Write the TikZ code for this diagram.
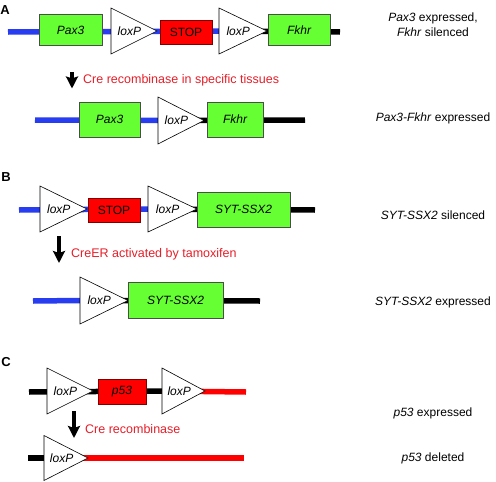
\documentclass[tikz,border=0pt]{standalone}
\usepackage{fontspec}
\setmainfont{Liberation Sans}
\usetikzlibrary{arrows.meta,backgrounds}
\definecolor{gene}{RGB}{102,255,51}
\definecolor{stopred}{RGB}{255,0,0}
\definecolor{dnablue}{RGB}{40,60,240}
\definecolor{labred}{RGB}{230,30,40}
\tikzset{
 dna/.style={line width=5.5pt},
 bluedna/.style={dna, draw=dnablue},
 blackdna/.style={dna, draw=black},
 reddna/.style={dna, draw=stopred},
 genebox/.style={draw=black!70, line width=0.6pt, fill=gene, inner sep=0pt,
   font=\itshape\fontsize{12}{14}\selectfont},
 stopbox/.style={draw=black!50!red, line width=0.6pt, fill=stopred, inner sep=0pt,
   font=\fontsize{12}{14}\selectfont},
 loxtri/.style={draw=black, fill=white, line width=0.6pt},
 loxlabel/.style={font=\itshape\fontsize{12}{14}\selectfont, inner sep=0pt},
 steparrow/.style={line width=3.2pt, -{Stealth[width=12pt,length=12pt,inset=2pt]}},
 steplabel/.style={text=labred, anchor=west, inner sep=0pt,
   font=\fontsize{12.5}{15}\selectfont},
 outcome/.style={align=center, inner sep=0pt, font=\fontsize{12}{15}\selectfont},
 panel/.style={inner sep=0pt, font=\bfseries\fontsize{13}{15}\selectfont}
}
% name, x left, y centre, width, half height
\newcommand\loxsite[5]{%
 \draw[loxtri] (#2,#3-#5) -- (#2+#4,#3) -- (#2,#3+#5) -- cycle;
 \coordinate (#1-base) at (#2,#3);
 \coordinate (#1-tip) at (#2+#4,#3);
 \node[loxlabel] (#1) at (#2+0.4*#4,#3) {loxP};}
\begin{document}
\begin{tikzpicture}[x=1pt,y=-1pt]
\useasboundingbox (0,0) rectangle (496,482);

% ---------------- Panel A ----------------
\node[panel] (pA) at (5,10) {A};
\coordinate (a1s) at (8,32);
\coordinate (a1e) at (340,32);
\node[genebox, minimum width=63pt, minimum height=31pt] (a1pax) at (70.5,30) {Pax3};
\loxsite{a1l1}{111}{31}{46}{23}
\node[stopbox, minimum width=52pt, minimum height=24pt] (a1stop) at (186,32) {STOP};
\loxsite{a1l2}{219}{31}{48}{23}
\node[genebox, minimum width=62pt, minimum height=31pt] (a1fk) at (299,30) {Fkhr};
\begin{scope}[on background layer]
 \draw[bluedna] (a1s) -- (a1l2-base);
 \draw[blackdna] (a1l2-base) -- (a1e);
\end{scope}

\coordinate (aa1) at (72,72);
\coordinate (aa2) at (72,88.5);
\draw[steparrow] (aa1) -- (aa2);
\node[steplabel] (atext) at (83,80) {Cre recombinase in specific tissues};

\coordinate (a2s) at (35,120);
\coordinate (a2e) at (305,120);
\node[genebox, minimum width=61pt, minimum height=35pt] (a2pax) at (109.5,119.5) {Pax3};
\loxsite{a2l}{158}{120.5}{46}{23.5}
\node[genebox, minimum width=56pt, minimum height=35pt] (a2fk) at (235,119.5) {Fkhr};
\begin{scope}[on background layer]
 \draw[bluedna] (a2s) -- (a2l-base);
 \draw[blackdna] (a2l-base) -- (a2e);
\end{scope}

\node[outcome] (oA1) at (433,24.5) {\textit{Pax3} expressed,\\\textit{Fkhr} silenced};
\node[outcome] (oA2) at (433,118) {\textit{Pax3-Fkhr} expressed};

% ---------------- Panel B ----------------
\node[panel] (pB) at (6,177) {B};
\coordinate (b1s) at (19,210);
\coordinate (b1e) at (315,210);
\loxsite{b1l1}{40}{209}{47}{23}
\node[stopbox, minimum width=52pt, minimum height=24pt] (b1stop) at (114,210) {STOP};
\loxsite{b1l2}{148}{209}{49}{23}
\node[genebox, minimum width=93pt, minimum height=35pt] (b1syt) at (243.5,209.5) {SYT-SSX2};
\begin{scope}[on background layer]
 \draw[bluedna] (b1s) -- (b1l2-base);
 \draw[blackdna] (b1l2-base) -- (b1e);
\end{scope}

\coordinate (ba1) at (59,236);
\coordinate (ba2) at (59,263);
\draw[steparrow] (ba1) -- (ba2);
\node[steplabel] (btext) at (71,254) {CreER activated by tamoxifen};

\coordinate (b2s) at (33,301);
\coordinate (b2e) at (260,301);
\loxsite{b2l}{80}{300.5}{48}{23.5}
\node[genebox, minimum width=95pt, minimum height=36pt] (b2syt) at (175.5,300) {SYT-SSX2};
\begin{scope}[on background layer]
 \draw[bluedna] (b2s) -- (b2l-base);
 \draw[blackdna] (b2l-base) -- (b2e);
\end{scope}

\node[outcome] (oB1) at (433,215) {\textit{SYT-SSX2} silenced};
\node[outcome] (oB2) at (433,302) {\textit{SYT-SSX2} expressed};

% ---------------- Panel C ----------------
\node[panel] (pC) at (6,362) {C};
\coordinate (c1s) at (29,392);
\coordinate (c1e) at (246,392);
\loxsite{c1l1}{47}{391}{46}{23}
\node[stopbox, minimum width=48pt, minimum height=25pt, font=\itshape\fontsize{12}{14}\selectfont] (c1p53) at (122,391.5) {p53};
\loxsite{c1l2}{162}{391}{43}{23}
\begin{scope}[on background layer]
 \draw[blackdna] (c1s) -- (c1l2-base);
 \draw[reddna] (c1l2-base) -- (c1e);
\end{scope}

\coordinate (ca1) at (74,411);
\coordinate (ca2) at (74,438);
\draw[steparrow] (ca1) -- (ca2);
\node[steplabel] (ctext) at (85,429) {Cre recombinase};

\coordinate (c2s) at (28,458);
\coordinate (c2e) at (244,458);
\loxsite{c2l}{44}{458}{44}{22.5}
\begin{scope}[on background layer]
 \draw[blackdna] (c2s) -- (c2l-base);
 \draw[reddna] (c2l-base) -- (c2e);
\end{scope}

\node[outcome] (oC1) at (433,413) {\textit{p53} expressed};
\node[outcome] (oC2) at (433,458) {\textit{p53} deleted};
\end{tikzpicture}
\end{document}
